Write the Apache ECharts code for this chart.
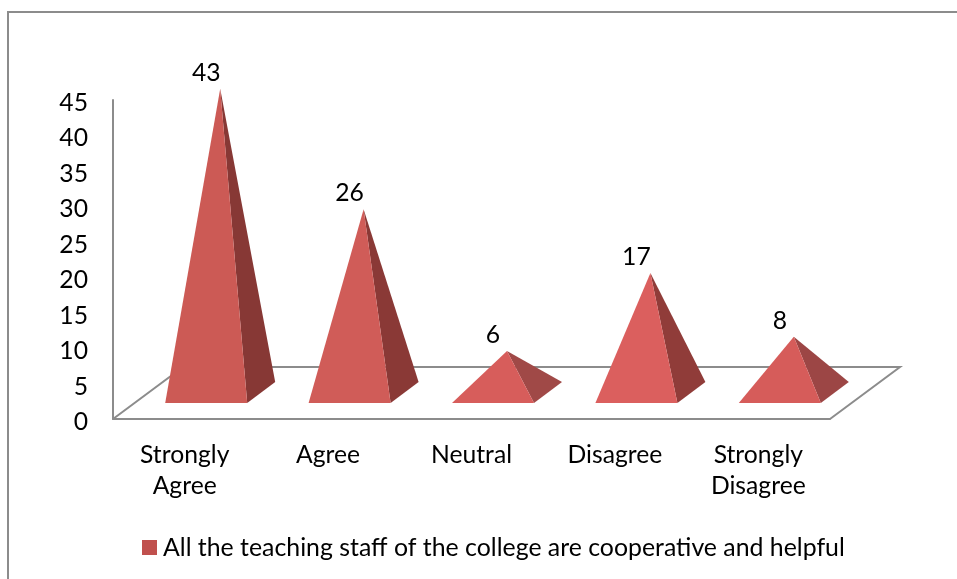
<!DOCTYPE html>
<html>
<head>
<meta charset="utf-8">
<script src="https://cdn.jsdelivr.net/npm/echarts@6/dist/echarts.min.js"></script>
<style>
html, body { margin: 0; padding: 0; background: #fff; }
#main { width: 957px; height: 579px; }
</style>
</head>
<body>
<div id="main"></div>
<script>
var seriesName = 'All the teaching staff of the college are cooperative and helpful';
var categories = ['Strongly Agree', 'Agree', 'Neutral', 'Disagree', 'Strongly Disagree'];
var values = [43, 26, 6, 17, 8];
var yTicks = [0, 5, 10, 15, 20, 25, 30, 35, 40, 45];

var frontColors = ['#cc5a55', '#d05c58', '#d75d5b', '#db5f5e', '#d65c5a'];
var sideColors = ['#873835', '#8a3936', '#a04947', '#903c39', '#9c4645'];

var lineColor = '#8c8c8c';
var fontName = 'Lato, "Noto Sans", sans-serif';
var fontSize = 24.7;

// pseudo 3d offsets, in pixels
var floorDx = 70, floorDy = 52;
var depthDx = 28, depthDy = 21;
var baseLift = 16, baseShift = 21.5, baseWidth = 82;
var apexDrop = 25.5;

function renderFloor(params) {
    var c = params.coordSys;
    var x0 = c.x, y0 = c.y + c.height, x1 = c.x + c.width;
    return {
        type: 'polyline',
        shape: {
            points: [[x0, y0], [x0 + floorDx, y0 - floorDy], [x1 + floorDx, y0 - floorDy], [x1, y0]]
        },
        style: { stroke: lineColor, lineWidth: 2, fill: null }
    };
}

function renderPyramid(params, api) {
    var i = api.value(0);
    var p = api.coord([i, api.value(1)]);
    var y0 = api.coord([i, 0])[1];
    var left = p[0] + baseShift - baseWidth / 2;
    var right = left + baseWidth;
    var base = y0 - baseLift;
    var apex = [left + (baseWidth + depthDx) / 2, p[1] - apexDrop];
    return {
        type: 'group',
        children: [
            {
                type: 'polygon',
                shape: { points: [[right, base], [right + depthDx, base - depthDy], apex] },
                style: { fill: sideColors[i] }
            },
            {
                type: 'polygon',
                shape: { points: [[left, base], [right, base], apex] },
                style: { fill: frontColors[i] }
            },
            {
                type: 'text',
                style: {
                    x: left + baseWidth / 2,
                    y: apex[1] - 16,
                    text: String(api.value(1)),
                    fill: '#000',
                    font: fontSize + 'px ' + fontName,
                    align: 'center',
                    verticalAlign: 'middle'
                }
            }
        ]
    };
}

var myChart = echarts.init(document.getElementById('main'));
var option = {
    backgroundColor: '#fff',
    animation: false,
    grid: { left: 113, top: 100, width: 717, height: 319 },
    legend: {
        data: [seriesName],
        left: 137,
        top: 530,
        icon: 'rect',
        itemWidth: 15,
        itemHeight: 15,
        itemGap: 0,
        textStyle: { color: '#000', fontFamily: fontName, fontSize: 24.85, padding: [0, 0, 0, 1] }
    },
    xAxis: {
        type: 'category',
        data: categories,
        axisTick: { show: false },
        axisLine: { lineStyle: { color: lineColor, width: 2 } },
        axisLabel: {
            color: '#000',
            fontFamily: fontName,
            fontSize: fontSize,
            lineHeight: 31,
            margin: 21,
            interval: 0,
            formatter: function (v) { return v.replace(' ', '\n'); }
        }
    },
    yAxis: {
        type: 'value',
        min: yTicks[0],
        max: yTicks[yTicks.length - 1],
        interval: 5,
        splitLine: { show: false },
        axisTick: { show: false },
        axisLine: { show: true, lineStyle: { color: lineColor, width: 2 } },
        // top aligned with a short line box, pushes the digits a few px under the tick
        axisLabel: { color: '#000', fontFamily: fontName, fontSize: fontSize, margin: 25, verticalAlign: 'top', lineHeight: 6 }
    },
    graphic: [
        {
            type: 'polyline',
            silent: true,
            shape: { points: [[8, 579], [8, 12], [957, 12]] },
            style: { stroke: lineColor, lineWidth: 2, fill: null }
        }
    ],
    series: [
        {
            type: 'custom',
            name: 'floor',
            silent: true,
            z: 1,
            data: [[0, 0]],
            renderItem: renderFloor,
            encode: { x: 0, y: 1 }
        },
        {
            type: 'custom',
            name: seriesName,
            z: 2,
            itemStyle: { color: '#c0504d' },
            data: values.map(function (v, i) { return [i, v]; }),
            renderItem: renderPyramid,
            encode: { x: 0, y: 1 }
        }
    ]
};

myChart.setOption(option);
window.onresize = myChart.resize;
</script>
</body>
</html>
